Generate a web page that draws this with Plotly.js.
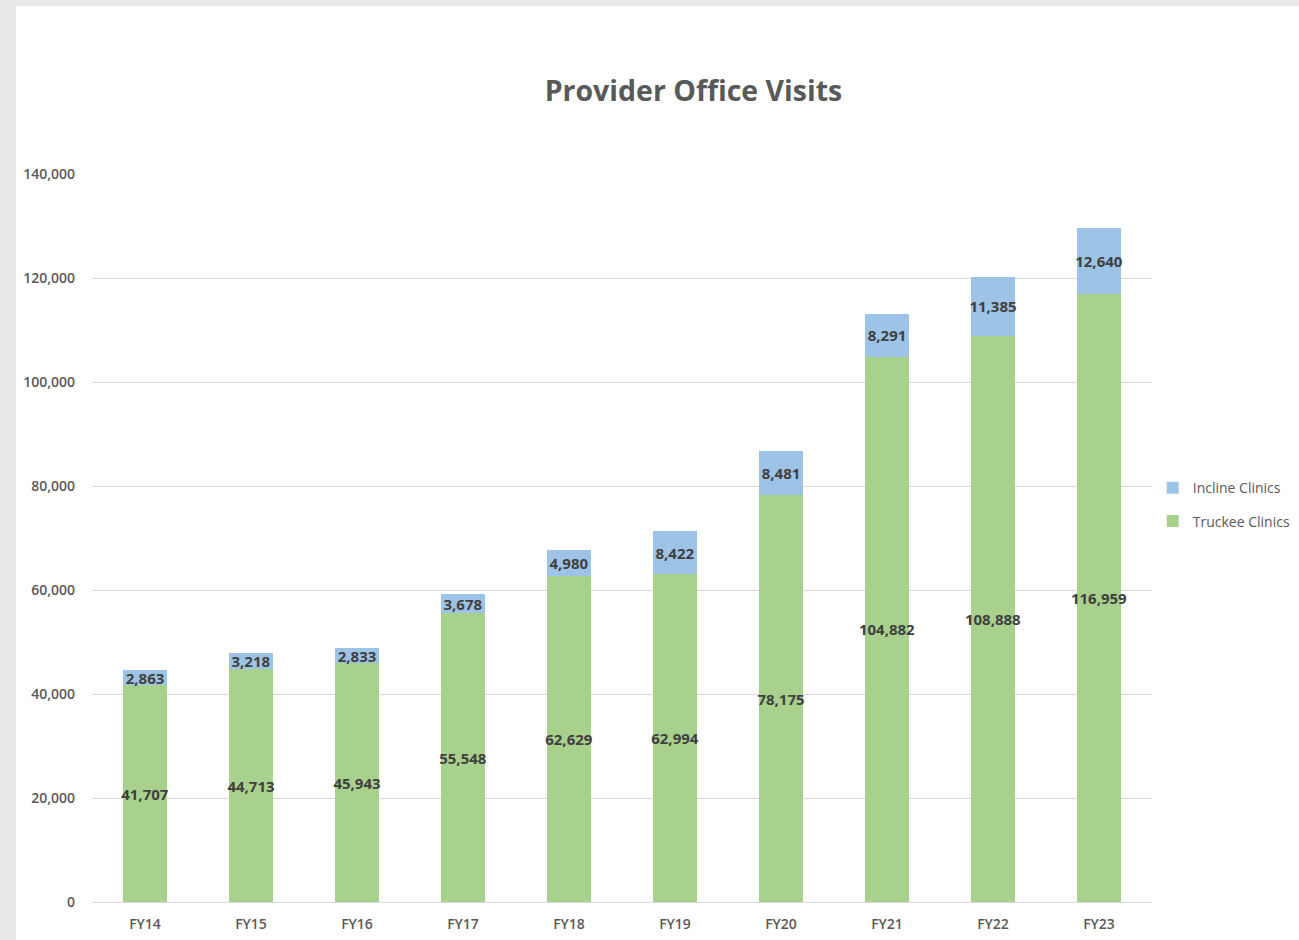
<!DOCTYPE html>
<html><head><meta charset="utf-8">
<script src="https://cdn.plot.ly/plotly-3.0.1.min.js"></script>
<style>
html,body{margin:0;padding:0;background:#e9eae8;width:1299px;height:940px;overflow:hidden}
#chart{position:absolute;left:16px;top:6px;width:1283px;height:934px;background:#fff}
</style></head><body>
<div id="chart"></div>
<script>
const categories = ["FY14","FY15","FY16","FY17","FY18","FY19","FY20","FY21","FY22","FY23"];
const truckee = [41707,44713,45943,55548,62629,62994,78175,104882,108888,116959];
const incline = [2863,3218,2833,3678,4980,8422,8481,8291,11385,12640];
const yTicks = [0,20000,40000,60000,80000,100000,120000,140000];
const fmt = v => v.toLocaleString('en-US');
const FONT = "'Open Sans', 'Noto Sans', sans-serif";
const labelFont = {family:FONT, size:15, color:"#404040", weight:700};
const traces = [
  {type:'bar', name:'Truckee Clinics', legendgroup:'t', legendrank:2, x:categories, y:truckee, marker:{color:'#a9d18e'},
   text:truckee.map(fmt), textposition:'inside', insidetextanchor:'middle', textangle:0,
   constraintext:'none', textfont:labelFont, hoverinfo:'x+y'},
  {type:'bar', name:'Incline Clinics', legendgroup:'i', legendrank:1, x:categories, y:incline, marker:{color:'#9dc3e6'},
   text:incline.map(fmt), textposition:'inside', insidetextanchor:'middle', textangle:0,
   constraintext:'none', textfont:labelFont, hoverinfo:'x+y'}
];
const layout = {
  width:1283, height:934, barmode:'stack', bargap:0.59,
  paper_bgcolor:'#fff', plot_bgcolor:'#fff',
  margin:{l:76, r:147, t:168, b:38},
  title:{text:'<b>Provider Office Visits</b>', x:0.528, xref:'container', y:0.909, yref:'container', yanchor:'middle',
         font:{family:FONT, size:28.5, color:'#595959'}},
  xaxis:{type:'category', showgrid:false, zeroline:false, showline:true, linecolor:'#d9d9d9', linewidth:1,
         ticks:'', tickfont:{family:FONT, size:14, color:'#595959', weight:600}, ticklabelstandoff:9},
  yaxis:{range:[0,140000], tickvals:yTicks, ticktext:yTicks.map(fmt), showgrid:true, gridcolor:'#d9d9d9', gridwidth:1,
         zeroline:false, showline:false, ticks:'', ticklabelstandoff:16,
         tickfont:{family:FONT, size:14, color:'#595959', weight:600}},
  legend:{x:0.886, xref:'container', xanchor:'left', y:0.466, yref:'container', yanchor:'middle', traceorder:'grouped',
          font:{family:FONT, size:14, color:'#595959'},
          itemwidth:30, tracegroupgap:12, bgcolor:'rgba(0,0,0,0)'},
  showlegend:true
};
Plotly.newPlot('chart', traces, layout, {displayModeBar:false, staticPlot:true});
</script>
</body></html>
